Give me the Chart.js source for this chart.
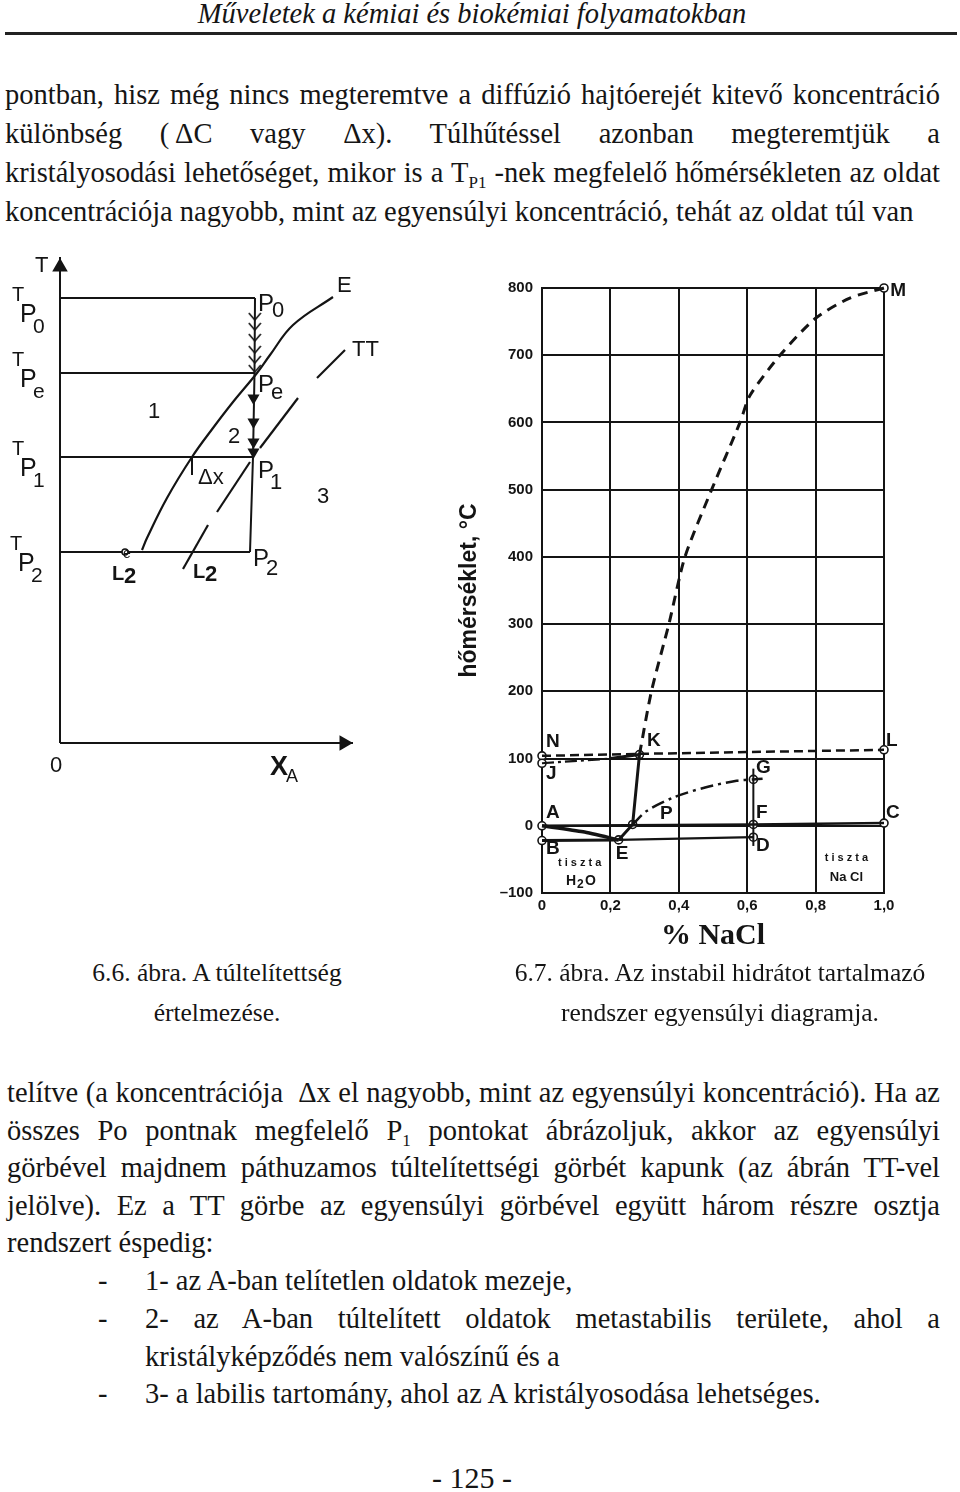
<!DOCTYPE html>
<html lang="hu">
<head>
<meta charset="UTF-8">
<title>6.6. és 6.7. ábra</title>
<script src="https://cdn.jsdelivr.net/npm/chart.js@4.4.0/dist/chart.umd.min.js"></script>
<style>
    body { margin: 0; background: #fff; }
    .page { position: relative; width: 960px; height: 1492px; font-family: 'Liberation Serif', 'Times New Roman', serif; color: #151515; overflow: hidden; }
    .ln { position: absolute; font-size: 28.5px; line-height: 30px; white-space: nowrap; }
    .cap { font-size: 25.5px; }
    .just { text-align: justify; text-align-last: justify; }
    .ctr { text-align: center; }
    .hdr { position: absolute; left: 0; width: 944px; top: 0; text-align: center; font-style: italic; font-size: 28.5px; line-height: 28px; }
    .rule { position: absolute; left: 5px; width: 952px; top: 32px; border-top: 3px solid #222; }
    .sub { font-size: 17px; vertical-align: -6px; }
    canvas { position: absolute; }
</style>
</head>
<body>
<div class="page">
    <div class="hdr">Műveletek a kémiai és biokémiai folyamatokban</div>
    <div class="rule"></div>

    <div class="ln just" style="left:5px;width:935px;top:80px">pontban, hisz még nincs megteremtve a diffúzió hajtóerejét kitevő koncentráció</div>
    <div class="ln just" style="left:5px;width:935px;top:119px">különbség (&thinsp;ΔC vagy Δx). Túlhűtéssel azonban megteremtjük a</div>
    <div class="ln just" style="left:5px;width:935px;top:158px">kristályosodási lehetőséget, mikor is a T<span class="sub">P1</span> -nek megfelelő hőmérsékleten az oldat</div>
    <div class="ln" style="left:5px;top:197px">koncentrációja nagyobb, mint az egyensúlyi koncentráció, tehát az oldat túl van</div>

    <canvas id="superChart" width="440" height="560" style="left:0;top:240px"></canvas>
    <canvas id="naclChart" width="500" height="700" style="left:440px;top:260px"></canvas>

    <div class="ln ctr cap" style="left:17px;width:400px;top:958px">6.6. ábra. A túltelítettség</div>
    <div class="ln ctr cap" style="left:17px;width:400px;top:998px">értelmezése.</div>
    <div class="ln ctr cap" style="left:490px;width:460px;top:958px">6.7. ábra. Az instabil hidrátot tartalmazó</div>
    <div class="ln ctr cap" style="left:490px;width:460px;top:998px">rendszer egyensúlyi diagramja.</div>

    <div class="ln just" style="left:7px;width:933px;top:1078px">telítve (a koncentrációja &nbsp;Δx el nagyobb, mint az egyensúlyi koncentráció). Ha az</div>
    <div class="ln just" style="left:7px;width:933px;top:1116px">összes Po pontnak megfelelő P<span class="sub">1</span> pontokat ábrázoljuk, akkor az egyensúlyi</div>
    <div class="ln just" style="left:7px;width:933px;top:1153px">görbével majdnem páthuzamos túltelítettségi görbét kapunk (az ábrán TT-vel</div>
    <div class="ln just" style="left:7px;width:933px;top:1191px">jelölve). Ez a TT görbe az egyensúlyi görbével együtt három részre osztja</div>
    <div class="ln" style="left:7px;top:1228px">rendszert éspedig:</div>

    <div class="ln" style="left:98px;top:1266px">-</div>
    <div class="ln" style="left:145px;top:1266px">1- az A-ban telítetlen oldatok mezeje,</div>
    <div class="ln" style="left:98px;top:1304px">-</div>
    <div class="ln just" style="left:145px;width:795px;top:1304px">2- az A-ban túltelített oldatok metastabilis területe, ahol a</div>
    <div class="ln" style="left:145px;top:1342px">kristályképződés nem valószínű és a</div>
    <div class="ln" style="left:98px;top:1379px">-</div>
    <div class="ln" style="left:145px;top:1379px">3- a labilis tartomány, ahol az A kristályosodása lehetséges.</div>

    <div class="ln ctr" style="left:372px;width:200px;top:1463px;font-size:30px">- 125 -</div>
</div>

<script>
    // ---- 6.6. ábra: schematic (arbitrary units, x = X_A, y = T) ----
    const levelNames = ['P0', 'Pe', 'P1', 'P2'];
    const levelT = [44.5, 37.0, 28.6, 19.1];
    const levelX = [19.5, 19.45, 19.3, 19.0];
    const eCurveX = [27.3, 23.3, 21.0, 19.7, 17.3, 15.3, 13.2, 10.7, 8.7, 8.2];
    const eCurveT = [44.6, 41.8, 38.8, 37.0, 34.1, 31.5, 28.6, 24.5, 20.5, 19.3];
    // TT is drawn as its four separate dashes
    const ttDashX = [[28.5, 25.7], [23.8, 20.0], [19.0, 15.7], [14.8, 12.3]];
    const ttDashT = [[39.3, 36.5], [34.5, 29.5], [28.1, 23.1], [21.8, 17.4]];
    const chevronT = [42.6, 41.6, 40.5, 39.3, 38.3, 37.4];
    const arrowT = [34.5, 32.1, 30.1, 29.1];
    const deltaX = [13.2, 13.2];
    const deltaT = [28.6, 26.8];
    const l2eX = 6.5, l2eT = 19.1;
    const axisXMax = 29.3, axisTMax = 48.6;

    // ---- 6.7. ábra: NaCl - H2O ----
    const xTickVals = [0, 0.2, 0.4, 0.6, 0.8, 1.0];
    const xTickLabels = ['0', '0,2', '0,4', '0,6', '0,8', '1,0'];
    const yTickVals = [-100, 0, 100, 200, 300, 400, 500, 600, 700, 800];
    const yTickLabels = ['–100', '0', '100', '200', '300', '400', '500', '600', '700', '800'];
    const mCurveX = [0.285, 0.32, 0.371, 0.418, 0.496, 0.579, 0.608, 0.696, 0.80, 0.90, 1.0];
    const mCurveT = [106, 200, 300, 400, 500, 600, 640, 700, 755, 785, 800];
    const nlX = [0, 0.285, 1.0], nlT = [104, 107, 113];
    const jX = [0, 0.2], jT = [93, 100];
    const hydrateX = [0.2, 0.285, 0.265, 0.224], hydrateT = [100, 106, 2, -21];
    const aeX = [0, 0.12, 0.224], aeT = [0, -9, -21];
    const beX = [0, 0.224], beT = [-22, -21];
    const edX = [0.224, 0.618], edT = [-21, -17];
    const zeroX = [0, 0.618, 1.0], zeroT = [0, 2, 4];
    const pgX = [0.265, 0.306, 0.384, 0.477, 0.569, 0.618, 0.645];
    const pgT = [2, 22, 42, 57, 67, 69, 70];
    const fgX = [0.618, 0.618], fgT = [-30, 85];
    const pointNames = ['N', 'J', 'A', 'B', 'K', 'P', 'E', 'G', 'F', 'D', 'C', 'L', 'M'];
    const pointX = [0, 0, 0, 0, 0.285, 0.265, 0.224, 0.618, 0.618, 0.618, 1.0, 1.0, 1.0];
    const pointT = [104, 93, 0, -22, 106, 2, -21, 69, 2, -17, 4, 113, 800];
    // where each letter sits (left edge, middle)
    const nameX = [0.012, 0.012, 0.012, 0.012, 0.307, 0.345, 0.216, 0.626, 0.626, 0.626, 1.006, 1.006, 1.018];
    const nameT = [125, 77, 19, -34, 126, 18, -42, 86, 19, -30, 19, 126, 796];

    const INK = '#141414';
    const zip = (xs, ys) => xs.map((x, i) => ({ x: x, y: ys[i] }));

    function line(data, extra) {
        return Object.assign({ data: data, showLine: true, borderColor: INK, borderWidth: 2,
            pointRadius: 0, fill: false, tension: 0, clip: false }, extra || {});
    }

    // text drawn at data coordinates, each label made of parts (offsets in px)
    function textPlugin(items, family) {
        return {
            id: 'labels',
            afterDatasetsDraw(chart) {
                const ctx = chart.ctx, sx = chart.scales.x, sy = chart.scales.y;
                ctx.save();
                ctx.fillStyle = INK;
                items.forEach(it => {
                    const px = sx.getPixelForValue(it.x), py = sy.getPixelForValue(it.y);
                    ctx.textAlign = it.align || 'left';
                    ctx.textBaseline = it.baseline || 'alphabetic';
                    it.parts.forEach(p => {
                        ctx.font = (p.w || it.w || 'normal') + ' ' + p.s + 'px ' + family;
                        ctx.fillText(p.t, px + (p.dx || 0), py + (p.dy || 0));
                    });
                });
                ctx.restore();
            }
        };
    }

    function chevron() {
        const c = document.createElement('canvas');
        c.width = 14; c.height = 10;
        const g = c.getContext('2d');
        g.strokeStyle = INK; g.lineWidth = 1.6;
        g.beginPath(); g.moveTo(1, 1); g.lineTo(7, 8); g.lineTo(13, 1); g.stroke();
        return c;
    }

    // T_P labels: T, then P lower, then index lower again
    function tLabel(x, y, idx) {
        return { x: x, y: y, parts: [
            { t: 'T', s: 20 }, { t: 'P', s: 25, dx: 8, dy: 21 }, { t: idx, s: 21, dx: 21, dy: 32 }] };
    }

    const superLabels = [
        { x: -2.5, y: 47.1, parts: [{ t: 'T', s: 22 }] },
        tLabel(-4.8, 44.2, '0'), tLabel(-4.8, 37.7, 'e'), tLabel(-4.8, 28.8, '1'), tLabel(-5.0, 19.3, '2'),
        { x: 19.8, y: 43.2, parts: [{ t: 'P', s: 24 }, { t: '0', s: 22, dx: 14, dy: 6 }] },
        { x: 27.7, y: 45.1, parts: [{ t: 'E', s: 22 }] },
        { x: 29.2, y: 38.7, parts: [{ t: 'TT', s: 22 }] },
        { x: 19.8, y: 35.1, parts: [{ t: 'P', s: 24 }, { t: 'e', s: 22, dx: 13, dy: 7 }] },
        { x: 8.8, y: 32.5, parts: [{ t: '1', s: 22 }] },
        { x: 16.8, y: 30.0, parts: [{ t: '2', s: 22 }] },
        { x: 13.8, y: 25.9, parts: [{ t: 'Δx', s: 22 }] },
        { x: 19.8, y: 26.5, parts: [{ t: 'P', s: 24 }, { t: '1', s: 22, dx: 12, dy: 11 }] },
        { x: 25.7, y: 24.0, parts: [{ t: '3', s: 22 }] },
        { x: 19.3, y: 17.7, parts: [{ t: 'P', s: 24 }, { t: '2', s: 22, dx: 13, dy: 9 }] },
        { x: 13.3, y: 16.5, w: 'bold', parts: [{ t: 'L', s: 20 }, { t: '2', s: 22, dx: 12, dy: 3 }] },
        { x: 5.2, y: 16.3, w: 'bold', parts: [{ t: 'L', s: 20 }, { t: '2', s: 22, dx: 12, dy: 3 }, { t: 'e', s: 14, dx: 11, dy: -22, w: 'normal' }] },
        { x: -1.0, y: -2.9, parts: [{ t: '0', s: 22 }] },
        { x: 21.0, y: -3.2, parts: [{ t: 'X', s: 27, w: 'bold' }, { t: 'A', s: 18, dx: 16, dy: 7 }] }
    ];

    const superSets = [
        line([{ x: 0, y: 0 }, { x: 0, y: axisTMax }]),
        line([{ x: 0, y: 0 }, { x: axisXMax, y: 0 }]),
        line([{ x: 0, y: axisTMax - 1 }, { x: axisXMax - 0.9, y: 0 }], { showLine: false, pointStyle: 'triangle',
            pointRadius: 7, pointRotation: [0, 90], backgroundColor: INK, borderColor: INK }),
        line(zip(levelX, levelT)),
        line(zip(eCurveX, eCurveT), { tension: 0.4, borderWidth: 2.2 }),
        line(chevronT.map(t => ({ x: 19.48, y: t })), { showLine: false, pointStyle: chevron(), pointRadius: 6 }),
        line(arrowT.map(t => ({ x: 19.35, y: t })), { showLine: false, pointStyle: 'triangle', pointRadius: 5,
            pointRotation: 180, backgroundColor: INK, borderColor: INK }),
        line(zip(deltaX, deltaT)),
        line([{ x: l2eX, y: l2eT }], { showLine: false, pointRadius: 3, pointBorderWidth: 1.5,
            backgroundColor: '#fff', borderColor: INK })
    ];
    ttDashX.forEach((xs, i) => superSets.push(line(zip(xs, ttDashT[i]), { borderWidth: 2.2 })));
    levelNames.forEach((n, i) => superSets.push(line([{ x: 0, y: levelT[i] }, { x: levelX[i], y: levelT[i] }])));

    new Chart(document.getElementById('superChart'), {
        type: 'scatter',
        data: { datasets: superSets },
        options: {
            responsive: false,
            animation: false,
            layout: { padding: { left: 60, right: 80, top: 17, bottom: 57 } },
            scales: {
                x: { type: 'linear', min: 0, max: 30, display: false },
                y: { type: 'linear', min: 0, max: axisTMax, display: false }
            },
            plugins: { legend: { display: false }, tooltip: { enabled: false } }
        },
        plugins: [textPlugin(superLabels, "'Liberation Sans', Arial, sans-serif")]
    });

    // ---- NaCl chart ----
    const naclLabels = pointNames.map((n, i) => ({ x: nameX[i], y: nameT[i], baseline: 'middle', w: 'bold', parts: [{ t: n, s: 19 }] }));
    naclLabels.push(
        { x: 0.11, y: -55, align: 'center', baseline: 'middle', w: 'bold', parts: [{ t: 't i s z t a', s: 11 }] },
        { x: 0.07, y: -82, baseline: 'middle', w: 'bold', parts: [{ t: 'H', s: 14 }, { t: '2', s: 12, dx: 11, dy: 4 }, { t: 'O', s: 14, dx: 19 }] },
        { x: 0.89, y: -48, align: 'center', baseline: 'middle', w: 'bold', parts: [{ t: 't i s z t a', s: 11 }] },
        { x: 0.89, y: -77, align: 'center', baseline: 'middle', w: 'bold', parts: [{ t: 'Na Cl', s: 13 }] }
    );

    const naclSets = [
        line(zip(mCurveX, mCurveT), { tension: 0.25, borderWidth: 3, borderDash: [10, 7] }),
        line(zip(nlX, nlT), { borderWidth: 2.5, borderDash: [9, 5] }),
        line(zip(jX, jT), { borderWidth: 2.2, borderDash: [12, 4, 3, 4] }),
        line(zip(hydrateX, hydrateT), { borderWidth: 3 }),
        line(zip(aeX, aeT), { borderWidth: 3.5, tension: 0.2 }),
        line(zip(beX, beT), { borderWidth: 3 }),
        line(zip(edX, edT), { borderWidth: 2.2 }),
        line(zip(zeroX, zeroT), { borderWidth: 2.5 }),
        line(zip(pgX, pgT), { borderWidth: 2.5, tension: 0.3, borderDash: [13, 5, 3, 5] }),
        line(zip(fgX, fgT), { borderWidth: 2 }),
        line(zip(pointX, pointT), { showLine: false, pointRadius: 4, pointBorderWidth: 1.6,
            backgroundColor: '#fff', borderColor: INK })
    ];

    const tickFont = { family: "'Liberation Sans', Arial, sans-serif", size: 15, weight: 'bold' };
    new Chart(document.getElementById('naclChart'), {
        type: 'scatter',
        data: { datasets: naclSets },
        options: {
            responsive: false,
            animation: false,
            layout: { padding: { left: 0, right: 56, top: 28, bottom: 0 } },
            scales: {
                x: {
                    type: 'linear', min: 0, max: 1,
                    afterBuildTicks: s => { s.ticks = xTickVals.map(v => ({ value: v })); },
                    afterFit: s => { s.height = 67; },
                    ticks: { callback: (v, i) => xTickLabels[i], font: tickFont, color: INK, padding: 4, maxRotation: 0, autoSkip: false },
                    grid: { color: INK, lineWidth: 2, drawTicks: false },
                    border: { color: INK, width: 2 },
                    title: { display: true, text: '% NaCl', color: INK, padding: { top: 0, bottom: 6 },
                        font: { family: "'Liberation Serif', serif", size: 30, weight: 'bold' } }
                },
                y: {
                    type: 'linear', min: -100, max: 800,
                    afterBuildTicks: s => { s.ticks = yTickVals.map(v => ({ value: v })); },
                    afterFit: s => { s.width = 102; },
                    ticks: { callback: (v, i) => yTickLabels[i], font: tickFont, color: INK, padding: 9, autoSkip: false },
                    grid: { color: INK, lineWidth: 2, drawTicks: false },
                    border: { color: INK, width: 2 },
                    title: { display: true, text: 'hőmérséklet, °C', color: INK, padding: { top: 16, bottom: 0 },
                        font: { family: "'Liberation Sans', Arial, sans-serif", size: 23, weight: 'bold' } }
                }
            },
            plugins: { legend: { display: false }, tooltip: { enabled: false } }
        },
        plugins: [textPlugin(naclLabels, "'Liberation Sans', Arial, sans-serif")]
    });
</script>
</body>
</html>
